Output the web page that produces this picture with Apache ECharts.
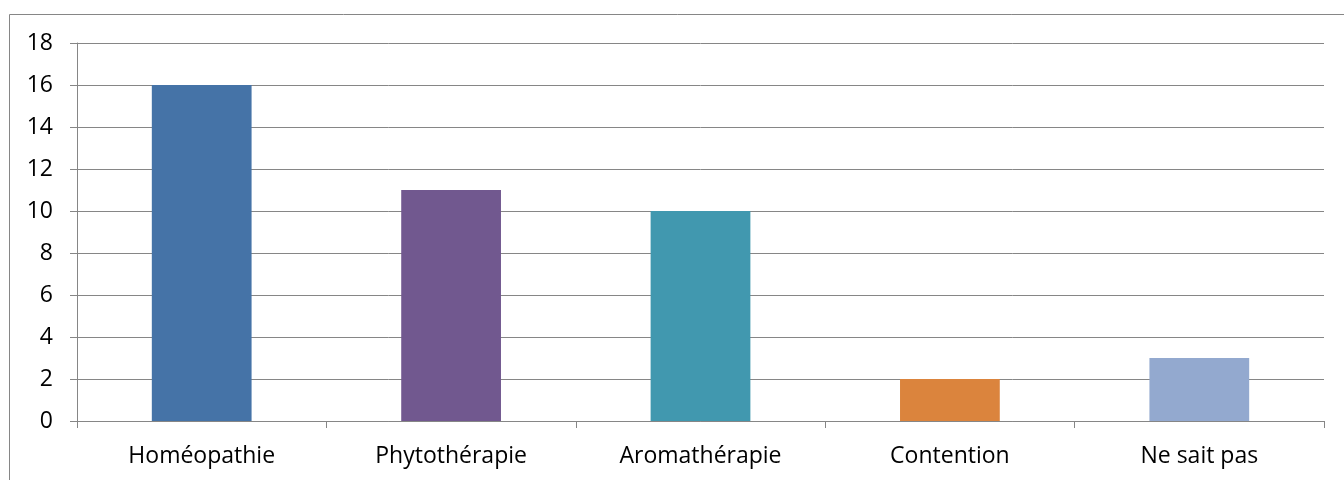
<!DOCTYPE html>
<html><head><meta charset="utf-8">
<script src="https://cdn.jsdelivr.net/npm/echarts@6/dist/echarts.min.js"></script>
<style>html,body{margin:0;padding:0;background:#fff}#c{width:1344px;height:480px}</style>
</head><body><div id="c"></div>
<script>
const categories = ['Homéopathie','Phytothérapie','Aromathérapie','Contention','Ne sait pas'];
const values = [16, 11, 10, 2, 3];
const colors = ['#4573A7','#71588F','#4198AF','#DB843D','#93A9CF'];
const yTicks = [0,2,4,6,8,10,12,14,16,18];

const chart = echarts.init(document.getElementById('c'));
chart.setOption({
  animation: false,
  graphic: [{type:'rect', shape:{x:9.5,y:14.5,width:1400,height:500}, style:{fill:'none',stroke:'#868686',lineWidth:1}}],
  grid: {left:77, right:20, top:43, bottom:59},
  xAxis: {
    type:'category', data:categories,
    axisLine:{lineStyle:{color:'#868686',width:1}},
    axisTick:{show:true, length:7, alignWithLabel:false, lineStyle:{color:'#868686'}},
    axisLabel:{color:'#000', fontFamily:'Open Sans', fontSize:23, margin:24}
  },
  yAxis: {
    type:'value', min:0, max:18, interval:2,
    axisLine:{show:true, lineStyle:{color:'#868686',width:1}},
    axisTick:{show:true, length:7, lineStyle:{color:'#868686'}},
    axisLabel:{color:'#000', fontFamily:'Open Sans', fontSize:23, margin:24,
      formatter: v => yTicks.includes(v) ? String(v) : ''},
    splitLine:{lineStyle:{color:'#868686',width:1}}
  },
  series: [{
    type:'bar', barWidth:'40%',
    data: values.map((v,i)=>({value:v, itemStyle:{color:colors[i]}}))
  }]
});
</script></body></html>
